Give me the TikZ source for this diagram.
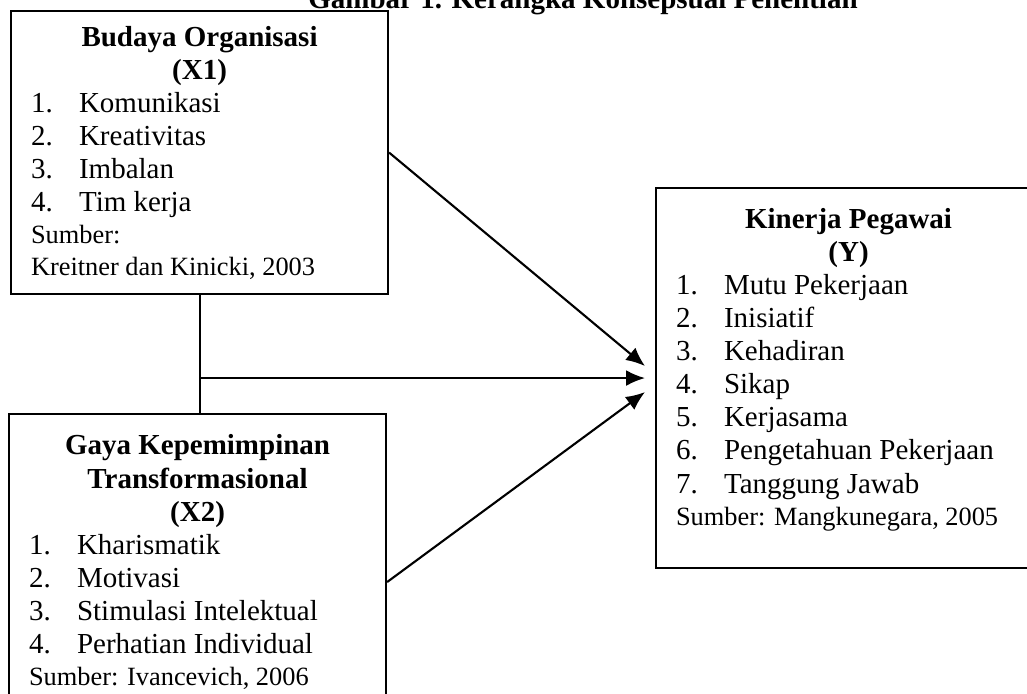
\documentclass[tikz,border=0pt]{standalone}
\usepackage{fontspec}
\setmainfont{Liberation Serif}
\usepackage{tikz}
\usetikzlibrary{arrows.meta,positioning}

\setlength{\parindent}{0pt}
\newcommand{\mainsize}{\fontsize{16.5}{18.8}\selectfont}
\newcommand{\sumbersize}{\fontsize{15}{18.2}\selectfont}
\newcommand{\boxtitle}[1]{{\centering\bfseries #1\par}}
\newcommand{\itm}[2]{\makebox[0.96cm][l]{#1}#2\par}
\newcommand{\sumber}[1]{{\sumbersize #1\par}}

\begin{document}
\begin{tikzpicture}[>=Latex,font=\mainsize,
  varbox/.style={draw,line width=1.2pt,anchor=north west,align=flush left,inner xsep=0.4cm,inner ysep=0.25cm},
  link/.style={line width=1.2pt,-{Latex[length=0.38cm,width=0.32cm]}}]
\useasboundingbox (0,0) rectangle (20.54,-13.88);
\clip (0,0) rectangle (20.54,-13.88);

\node[font=\mainsize\bfseries,anchor=base] (judul) at (11.66,-0.16) {Gambar 1. Kerangka Konsepsual Penelitian};

\node[varbox,text width=6.74cm,minimum height=5.66cm] (budaya) at (0.2,-0.2) {%
\boxtitle{Budaya Organisasi\\(X1)}
\itm{1.}{Komunikasi}
\itm{2.}{Kreativitas}
\itm{3.}{Imbalan}
\itm{4.}{Tim kerja}
\sumber{Sumber:\\Kreitner dan Kinicki, 2003}};

\node[varbox,text width=6.74cm,minimum height=5.92cm] (gaya) at (0.16,-8.26) {%
\boxtitle{Gaya Kepemimpinan\\Transformasional\\(X2)}
\itm{1.}{Kharismatik}
\itm{2.}{Motivasi}
\itm{3.}{Stimulasi Intelektual}
\itm{4.}{Perhatian Individual}
\sumber{Sumber: Ivancevich, 2006}};

\node[varbox,text width=6.9cm,minimum height=7.6cm] (kinerja) at (13.1,-3.74) {%
\boxtitle{Kinerja Pegawai\\(Y)}
\itm{1.}{Mutu Pekerjaan}
\itm{2.}{Inisiatif}
\itm{3.}{Kehadiran}
\itm{4.}{Sikap}
\itm{5.}{Kerjasama}
\itm{6.}{Pengetahuan Pekerjaan}
\itm{7.}{Tanggung Jawab}
\sumber{Sumber: Mangkunegara, 2005\rule[-0.45cm]{0pt}{0pt}}};

% connectors
\coordinate (ujung) at ([xshift=-0.2cm]kinerja.west);
\draw[line width=1.2pt] (budaya.south) -- (budaya.south |- gaya.north);
\draw[link] (budaya.south |- kinerja.west) -- (ujung);
\draw[link] (budaya.east) -- ([yshift=0.24cm]ujung);
\draw[link] ([yshift=-0.4cm]gaya.east) -- ([yshift=-0.28cm]ujung);
\end{tikzpicture}
\end{document}
